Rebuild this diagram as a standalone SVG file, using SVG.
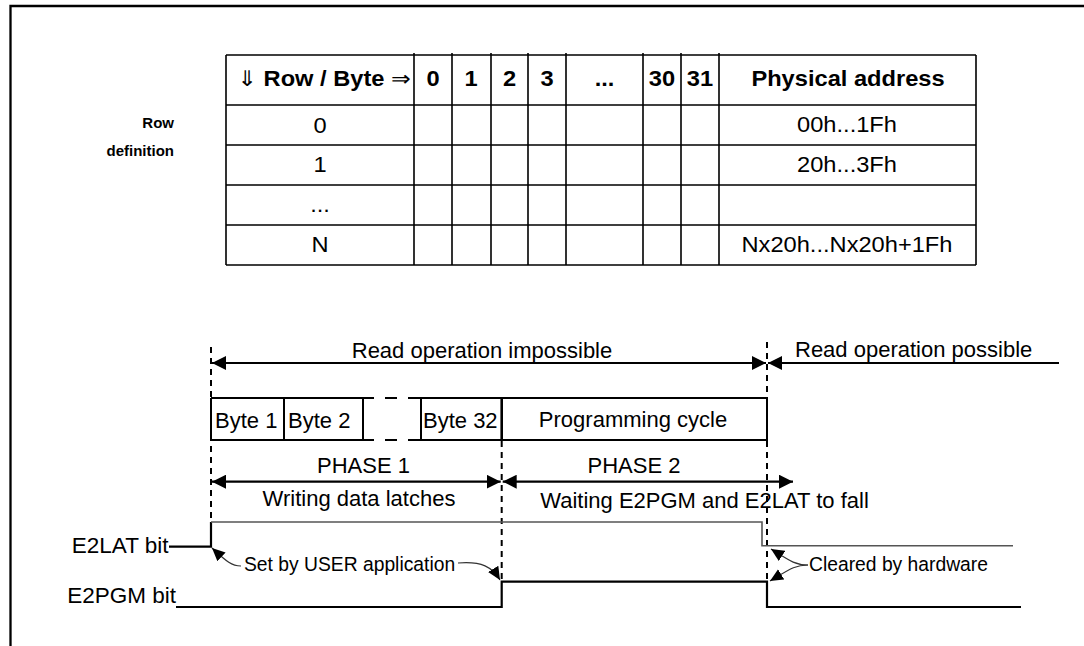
<svg xmlns="http://www.w3.org/2000/svg" width="1084" height="646" viewBox="0 0 1084 646">
<style>
text{font-family:"Liberation Sans",Arial,Helvetica,sans-serif;fill:#000}
.tb{font-size:21.5px;font-weight:bold;text-anchor:middle}
.tr{font-size:21.5px;text-anchor:middle}
.t{font-size:22px}
.te{font-size:22.5px;text-anchor:end}
.tm{font-size:22px;text-anchor:middle}
.an{font-size:19.3px}
.rl{font-size:15px;font-weight:bold;text-anchor:end}
.sym{font-family:"DejaVu Sans",sans-serif;font-weight:normal}
.grid{stroke:#000;stroke-width:1.6;fill:none}
.box{stroke:#000;stroke-width:2;fill:none}
.dash{stroke:#000;stroke-width:2;stroke-dasharray:6 5;fill:none}
.arr{stroke:#000;stroke-width:2.2;fill:none}
.sig{stroke:#000;stroke-width:2.2;fill:none}
.sigg{stroke:#555;stroke-width:1.6;fill:none}
.cur{stroke:#333;stroke-width:1.2;fill:none}
</style>
<defs>
<marker id="ah" viewBox="0 0 14 14" markerWidth="14" markerHeight="14" refX="14" refY="7" orient="auto-start-reverse" markerUnits="userSpaceOnUse"><path d="M0,0 L14,7 L0,14 z" fill="#000"/></marker>
<marker id="sh" viewBox="0 0 13 12" markerWidth="13" markerHeight="12" refX="13" refY="6" orient="auto" markerUnits="userSpaceOnUse"><path d="M0,0 L13,6 L0,12 z" fill="#000"/></marker>
</defs>
<rect width="1084" height="646" fill="#fff"/>
<g id="frame"><path d="M10.5,646 V6 H1084" stroke="#000" stroke-width="2.3" fill="none"/></g>

<g id="row-definition">
<text class="rl" x="174" y="128">Row</text>
<text class="rl" x="174" y="156">definition</text>
</g>

<g id="table">
<path class="grid" d="M226,55 H976 M226,105 H976 M226,145 H976 M226,185 H976 M226,225 H976 M226,265 H976 M226,55 V265 M976,55 V265 M414,53 V265 M452,53 V265 M491,53 V265 M528,53 V265 M566,53 V265 M643,53 V265 M681,53 V265 M719,53 V265"/>
<text class="tb" transform="translate(324,86) scale(1.1,1)"><tspan class="sym">⇓</tspan> Row / Byte <tspan class="sym">⇒</tspan></text>
<text class="tb" transform="translate(433,86) scale(1.1,1)">0</text>
<text class="tb" transform="translate(471,86) scale(1.1,1)">1</text>
<text class="tb" transform="translate(509.5,86) scale(1.1,1)">2</text>
<text class="tb" transform="translate(547,86) scale(1.1,1)">3</text>
<text class="tb" transform="translate(604.5,86) scale(1.1,1)">...</text>
<text class="tb" transform="translate(662,86) scale(1.1,1)">30</text>
<text class="tb" transform="translate(700,86) scale(1.1,1)">31</text>
<text class="tb" transform="translate(848,86) scale(1.1,1)">Physical address</text>
<text class="tr" transform="translate(320,133) scale(1.1,1)">0</text>
<text class="tr" transform="translate(320,172) scale(1.1,1)">1</text>
<text class="tr" transform="translate(320,212) scale(1.1,1)">...</text>
<text class="tr" transform="translate(320,252) scale(1.1,1)">N</text>
<text class="tr" transform="translate(847,132) scale(1.1,1)">00h...1Fh</text>
<text class="tr" transform="translate(847,172) scale(1.1,1)">20h...3Fh</text>
<text class="tr" transform="translate(847,252) scale(1.1,1)">Nx20h...Nx20h+1Fh</text>
</g>

<g id="guides">
<line class="dash" x1="211" y1="347" x2="211" y2="522"/>
<line class="dash" x1="501.7" y1="441" x2="501.7" y2="581.7"/>
<line class="dash" x1="767" y1="342" x2="767" y2="581.7"/>
</g>

<g id="read-impossible">
<line class="arr" x1="212" y1="363" x2="766" y2="363" marker-start="url(#ah)" marker-end="url(#ah)"/>
<text class="tm" x="482" y="357.5">Read operation impossible</text>
</g>
<g id="read-possible">
<line class="arr" x1="768" y1="363" x2="1059" y2="363" marker-start="url(#ah)"/>
<text class="t" x="795" y="357">Read operation possible</text>
</g>

<g id="byte-boxes">
<path class="box" d="M211,398 H363 M211,440 H363 M211,398 V440 M284,398 V440 M363,398 V440"/>
<path class="box" d="M363,398 H374 M385,398 H397 M408,398 H421 M363,440 H374 M385,440 H397 M408,440 H421"/>
<path class="box" d="M421,398 H767 V440 H421 Z"/>
<line x1="501.7" y1="398" x2="501.7" y2="440" stroke="#000" stroke-width="2.6"/>
<text class="t" x="215" y="428">Byte 1</text>
<text class="t" x="288" y="428">Byte 2</text>
<text class="t" x="423" y="428">Byte 32</text>
<text class="tm" x="633" y="427">Programming cycle</text>
</g>

<g id="phase1">
<line class="arr" x1="212" y1="481.7" x2="500.7" y2="481.7" marker-start="url(#ah)" marker-end="url(#ah)"/>
<text class="tm" x="363.5" y="473">PHASE 1</text>
<text class="tm" x="359" y="506">Writing data latches</text>
</g>
<g id="phase2">
<line class="arr" x1="502.7" y1="481.7" x2="793" y2="481.7" marker-start="url(#ah)" marker-end="url(#ah)"/>
<text class="tm" x="634" y="473">PHASE 2</text>
<text class="tm" x="704.5" y="508">Waiting E2PGM and E2LAT to fall</text>
</g>

<g id="e2lat">
<text class="te" x="168.5" y="552.5">E2LAT bit</text>
<path class="sig" d="M169,546.7 H211 V522"/>
<path class="sigg" d="M211,522 H762 V545.7 H1013"/>
</g>
<g id="e2pgm">
<text class="te" x="176" y="603">E2PGM bit</text>
<path class="sig" d="M176,607 H501.7 V581.7 H767 V607 H1021"/>
</g>

<g id="annotations">
<text class="an" x="244" y="570.7">Set by USER application</text>
<text class="an" x="809" y="570.7">Cleared by hardware</text>
</g>
<g id="connectors">
<path class="cur" d="M241,566 C232,566 227,562 212,548" marker-end="url(#sh)"/>
<path class="cur" d="M458,563 C482,561 492,567 500,580" marker-end="url(#sh)"/>
<path class="cur" d="M808,565 C795,565 790,561 771,549" marker-end="url(#sh)"/>
<path class="cur" d="M808,565 C795,565 790,569 770,581" marker-end="url(#sh)"/>
</g>
</svg>
